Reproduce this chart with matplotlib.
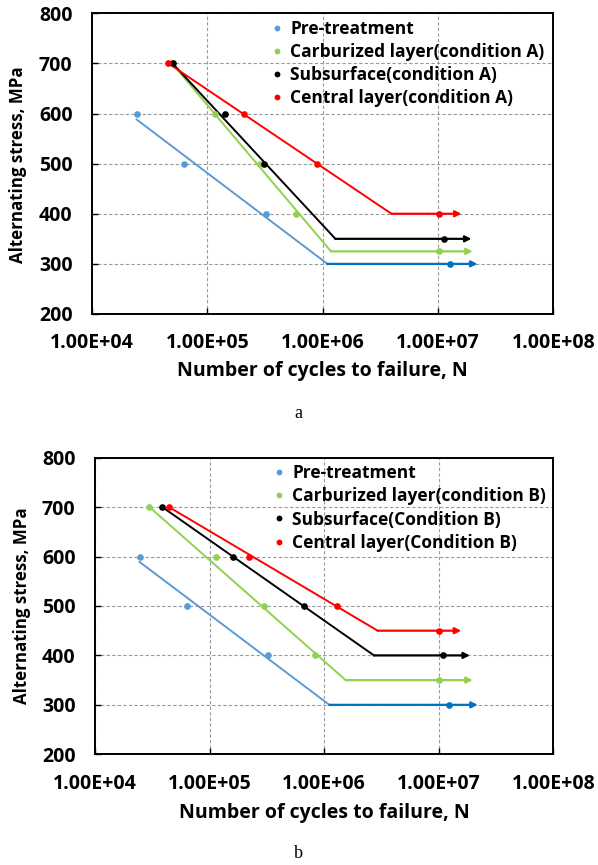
import matplotlib
matplotlib.use("Agg")
import matplotlib.pyplot as plt
from matplotlib.lines import Line2D

plt.rcParams['font.family'] = ['Open Sans', 'DejaVu Sans']
plt.rcParams['font.weight'] = 'bold'

# ---- data ----
x_ticks = [1e4, 1e5, 1e6, 1e7, 1e8]
x_tick_labels = ["1.00E+04", "1.00E+05", "1.00E+06", "1.00E+07", "1.00E+08"]
y_ticks = [200, 300, 400, 500, 600, 700, 800]

# panel a (condition A)
a_pre_N = [2.44e4, 6.3e4, 3.2e5, 1.27e7]
a_pre_S = [600, 500, 400, 300]
a_pre_line_N = [2.44e4, 1.1e6, 2.2e7]
a_pre_line_S = [588, 300, 300]

a_carb_N = [4.9e4, 1.17e5, 2.86e5, 5.87e5, 1.02e7]
a_carb_S = [700, 600, 500, 400, 325]
a_carb_line_N = [4.95e4, 1.18e6, 2.0e7]
a_carb_line_S = [700, 325, 325]

a_sub_N = [5.0e4, 1.41e5, 3.1e5, 1.12e7]
a_sub_S = [700, 600, 500, 350]
a_sub_line_N = [5.0e4, 1.29e6, 1.95e7]
a_sub_line_S = [700, 350, 350]

a_cen_N = [4.6e4, 2.07e5, 8.9e5, 1.02e7]
a_cen_S = [700, 600, 500, 400]
a_cen_line_N = [4.6e4, 3.95e6, 1.6e7]
a_cen_line_S = [700, 400, 400]

# panel b (condition B)
b_pre_N = [2.45e4, 6.35e4, 3.21e5, 1.23e7]
b_pre_S = [600, 500, 400, 300]
b_pre_line_N = [2.45e4, 1.11e6, 2.19e7]
b_pre_line_S = [589, 300, 300]

b_carb_N = [2.93e4, 1.13e5, 2.96e5, 8.26e5, 1.0e7]
b_carb_S = [700, 600, 500, 400, 350]
b_carb_line_N = [2.99e4, 1.54e6, 1.98e7]
b_carb_line_S = [700, 350, 350]

b_sub_N = [3.87e4, 1.61e5, 6.62e5, 1.09e7]
b_sub_S = [700, 600, 500, 400]
b_sub_line_N = [3.87e4, 2.72e6, 1.87e7]
b_sub_line_S = [700, 400, 400]

b_cen_N = [4.43e4, 2.22e5, 1.29e6, 1.0e7]
b_cen_S = [700, 600, 500, 450]
b_cen_line_N = [4.43e4, 2.93e6, 1.57e7]
b_cen_line_S = [700, 450, 450]

labels_a = ["Pre-treatment", "Carburized layer(condition A)",
            "Subsurface(condition A)", "Central layer(condition A)"]
labels_b = ["Pre-treatment", "Carburized layer(condition B)",
            "Subsurface(Condition B)", "Central layer(Condition B)"]

# colours: (points, slope line, runout part)
styles = [("#5B9BD5", "#5B9BD5", "#0070C0"),
          ("#92D050", "#92D050", "#92D050"),
          ("#000000", "#000000", "#000000"),
          ("#FF0000", "#FF0000", "#FF0000")]


def draw_panel(ax, series, labels):
    for (pN, pS, lN, lS), (pc, lc, rc) in zip(series, styles):
        ax.plot(lN[:2], lS[:2], color=lc, lw=1.4, zorder=3)
        ax.annotate("", xy=(lN[2], lS[2]), xytext=(lN[1], lS[1]),
                    arrowprops=dict(arrowstyle="-|>", color=rc, lw=1.6,
                                    mutation_scale=9, shrinkA=0, shrinkB=0),
                    zorder=3)
        ax.plot(pN[:-1], pS[:-1], 'o', color=pc, ms=4.8, mec='none', zorder=4)
        ax.plot(pN[-1:], pS[-1:], 'o', color=rc, ms=4.8, mec='none', zorder=4)

    ax.set_xscale('log')
    ax.set_xlim(1e4, 1e8)
    ax.set_ylim(200, 800)
    ax.set_xticks(x_ticks)
    ax.set_xticklabels(x_tick_labels)
    ax.minorticks_off()
    ax.set_yticks(y_ticks)
    ax.tick_params(direction='in', length=4, width=1, labelsize=14)
    ax.tick_params(axis='x', pad=14)
    ax.tick_params(axis='y', pad=14)
    ax.grid(True, color='#9A9A9A', ls=(0, (3, 2)), lw=0.8)
    ax.set_axisbelow(True)
    for sp in ax.spines.values():
        sp.set_linewidth(1.4)

    handles = [Line2D([], [], ls='', marker='o', ms=4.2, mec='none', color=c[0])
               for c in styles]
    ax.legend(handles, labels, loc='upper left', bbox_to_anchor=(0.383, 0.99),
              frameon=False, fontsize=12.5, handlelength=0.6,
              handletextpad=0.45, labelspacing=0.3, borderpad=0.2,
              borderaxespad=0)


fig = plt.figure(figsize=(5.98, 8.65), dpi=100)
ax1 = fig.add_axes([0.1538, 0.6370, 0.7715, 0.3476])
ax2 = fig.add_axes([0.1589, 0.1280, 0.7664, 0.3429])

draw_panel(ax1, [(a_pre_N, a_pre_S, a_pre_line_N, a_pre_line_S),
                 (a_carb_N, a_carb_S, a_carb_line_N, a_carb_line_S),
                 (a_sub_N, a_sub_S, a_sub_line_N, a_sub_line_S),
                 (a_cen_N, a_cen_S, a_cen_line_N, a_cen_line_S)], labels_a)
draw_panel(ax2, [(b_pre_N, b_pre_S, b_pre_line_N, b_pre_line_S),
                 (b_carb_N, b_carb_S, b_carb_line_N, b_carb_line_S),
                 (b_sub_N, b_sub_S, b_sub_line_N, b_sub_line_S),
                 (b_cen_N, b_cen_S, b_cen_line_N, b_cen_line_S)], labels_b)

# axis titles and captions placed in figure pixels
W, H = 598, 865
fig.text(18 / W, 1 - 165 / H, "Alternating stress, MPa", rotation=90,
         ha='center', va='center', fontsize=12.2)
fig.text(322 / W, 1 - 371 / H, "Number of cycles to failure, N",
         ha='center', va='center', fontsize=14)
fig.text(298 / W, 1 - 413 / H, "a", ha='center', va='center',
         fontsize=13, family='Liberation Serif', weight='normal')

fig.text(22 / W, 1 - 606 / H, "Alternating stress, MPa", rotation=90,
         ha='center', va='center', fontsize=12.2)
fig.text(324 / W, 1 - 813 / H, "Number of cycles to failure, N",
         ha='center', va='center', fontsize=14)
fig.text(298 / W, 1 - 853 / H, "b", ha='center', va='center',
         fontsize=13, family='Liberation Serif', weight='normal')

fig.savefig("out.png", dpi=100)
